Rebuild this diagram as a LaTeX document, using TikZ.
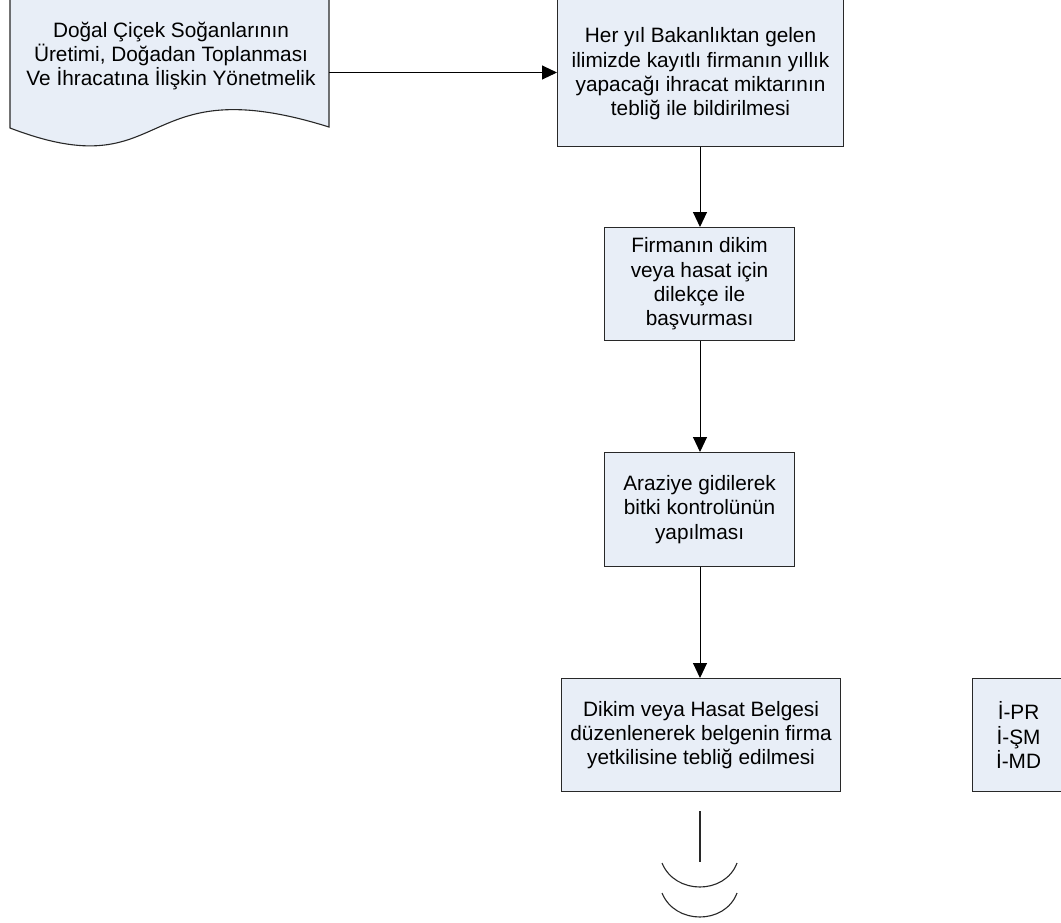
\documentclass[tikz,border=0pt]{standalone}
\usepackage{fontspec}
\setmainfont{Liberation Sans}
\usetikzlibrary{arrows.meta}
\definecolor{boxfill}{RGB}{232,238,247}
\definecolor{edge}{RGB}{40,40,40}
\begin{document}
\begin{tikzpicture}[x=1pt,y=-1pt,
  every node/.style={font=\fontsize{20.8}{24.3}\selectfont, align=center, inner sep=0pt},
  procbox/.style={draw=edge, line width=1.1pt, fill=boxfill, rectangle, anchor=north west},
  arr/.style={draw=black, line width=1pt, -{Triangle[length=15pt,width=14pt]}},
  plain/.style={draw=edge, line width=1.1pt}]
\useasboundingbox (0,0) rectangle (1061,922);

% document shape
\path[plain, fill=boxfill] (10,-5) -- (10,128)
  .. controls (172,190) and (134,66) .. (329,127)
  -- (329,-5);
\node (doc) [minimum width=319pt, minimum height=133pt] at (169.5,61.5) {};
\node (doctext) at (171,56) {Doğal Çiçek Soğanlarının\\Üretimi, Doğadan Toplanması\\Ve İhracatına İlişkin Yönetmelik};

% process boxes
\node (b1) [procbox, minimum width=286pt, minimum height=147pt] at (557,-1) {};
\node at (b1.center) [yshift=-1pt] {Her yıl Bakanlıktan gelen\\ilimizde kayıtlı firmanın yıllık\\yapacağı ihracat miktarının\\tebliğ ile bildirilmesi};

\node (b2) [procbox, minimum width=190pt, minimum height=113pt] at (604,227) {};
\node at (b2.center) {Firmanın dikim\\veya hasat için\\dilekçe ile\\başvurması};

\node (b3) [procbox, minimum width=190pt, minimum height=114pt] at (604,452) {};
\node at (b3.center) {Araziye gidilerek\\bitki kontrolünün\\yapılması};

\node (b4) [procbox, minimum width=279pt, minimum height=113pt] at (561,678) {};
\node at (b4.center) {Dikim veya Hasat Belgesi\\düzenlenerek belgenin firma\\yetkilisine tebliğ edilmesi};

\node (b5) [procbox, minimum width=92pt, minimum height=113pt] at (972,678) {};
\node at (b5.center) {İ-PR\\İ-ŞM\\İ-MD};

% connectors
\draw[arr] (doc.east |- 0,72.5) -- (b1.west |- 0,72.5);
\draw[arr] (b1.south -| 700,0) -- (b2.north -| 700,0);
\draw[arr] (b2.south -| 700,0) -- (b3.north -| 700,0);
\draw[arr] (b3.south -| 700,0) -- (b4.north -| 700,0);

% continuation symbol
\coordinate (ct) at (700,811);
\coordinate (cb) at (700,862);
\draw[plain] (ct) -- (cb);
\draw[plain] (662,863) .. controls (675,895) and (725,895) .. (737,863);
\draw[plain] (662,893) .. controls (675,925) and (725,925) .. (737,893);
\end{tikzpicture}
\end{document}
